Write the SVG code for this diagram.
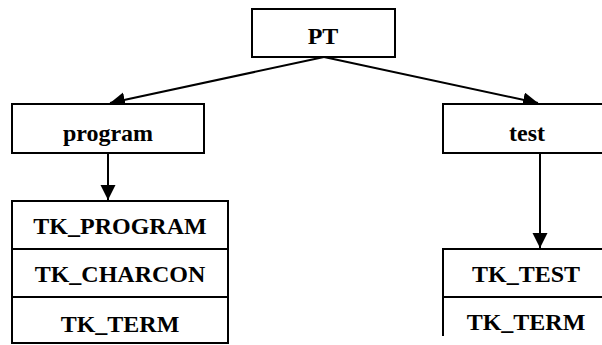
<svg xmlns="http://www.w3.org/2000/svg" width="602" height="345" viewBox="0 0 602 345">
  <style>
    .box { fill: #fff; stroke: #000; stroke-width: 2; }
    .edge { fill: none; stroke: #000; stroke-width: 2; }
    .lbl { font-family: "Liberation Serif", "Times New Roman", serif; font-weight: bold; font-size: 24px; fill: #000; text-anchor: middle; }
  </style>
  <defs>
    <marker id="arrow" markerUnits="userSpaceOnUse" markerWidth="16" markerHeight="16" refX="15" refY="7.5" orient="auto">
      <path d="M0,0 L15,7.5 L0,15 Z" fill="#000"/>
    </marker>
  </defs>
  <rect width="602" height="345" fill="#fff"/>

  <g id="connectors">
    <line class="edge" x1="324" y1="57" x2="110" y2="103" marker-end="url(#arrow)"/>
    <line class="edge" x1="324" y1="57" x2="538" y2="103" marker-end="url(#arrow)"/>
    <line class="edge" x1="108" y1="153" x2="108" y2="200" marker-end="url(#arrow)"/>
    <line class="edge" x1="540" y1="153" x2="540" y2="248" marker-end="url(#arrow)"/>
  </g>

  <g id="node-pt">
    <rect class="box" x="252" y="9" width="143" height="48"/>
    <text class="lbl" x="323" y="44">PT</text>
  </g>

  <g id="node-program">
    <rect class="box" x="12" y="104" width="192" height="49"/>
    <text class="lbl" x="108" y="141">program</text>
  </g>

  <g id="node-test">
    <rect class="box" x="443" y="104" width="168" height="49"/>
    <text class="lbl" x="527" y="141">test</text>
  </g>

  <g id="node-program-tokens">
    <rect class="box" x="12" y="201" width="216" height="142"/>
    <line class="edge" x1="12" y1="249" x2="228" y2="249"/>
    <line class="edge" x1="12" y1="297" x2="228" y2="297"/>
    <text class="lbl" x="120" y="234">TK_PROGRAM</text>
    <text class="lbl" x="120" y="282">TK_CHARCON</text>
    <text class="lbl" x="120" y="332">TK_TERM</text>
  </g>

  <g id="node-test-tokens">
    <path class="edge" d="M443,336 V249 H611 M443,297 H611"/>
    <text class="lbl" x="526" y="282">TK_TEST</text>
    <text class="lbl" x="526" y="330">TK_TERM</text>
  </g>
</svg>
